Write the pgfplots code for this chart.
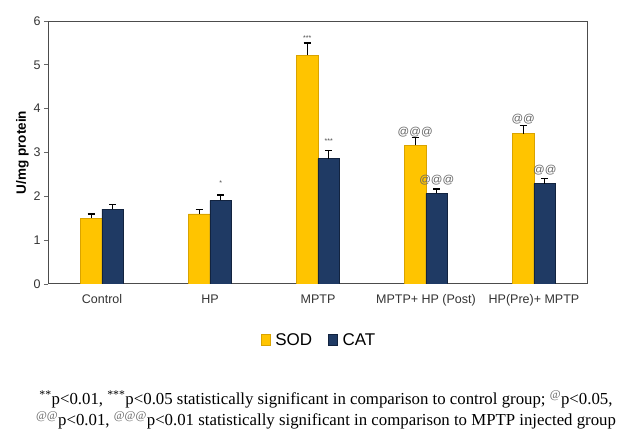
\documentclass[border=0pt]{standalone}
\usepackage{pgfplots}
\pgfplotsset{compat=1.18}
\usepackage{pgfplotstable}
\usepackage{fontspec}
\setmainfont{Liberation Sans}
\newfontfamily\seriffont{Liberation Serif}
\definecolor{sodc}{HTML}{FFC400}
\definecolor{sodd}{HTML}{D9A300}
\definecolor{catc}{HTML}{1F3A64}
\definecolor{catd}{HTML}{12233F}
\pgfplotstableread{
x sod sode cat cate
0 1.50 0.10 1.71 0.10
1 1.60 0.10 1.91 0.12
2 5.22 0.28 2.86 0.18
3 3.16 0.19 2.07 0.10
4 3.43 0.18 2.29 0.11
}\datatab
\begin{document}
\begin{tikzpicture}
\path[use as bounding box] (0pt,0pt) rectangle (619pt,-430pt);
\begin{axis}[
  at={(48pt,-284pt)}, anchor=south west,
  scale only axis, width=540pt, height=263pt,
  xmin=-0.5, xmax=4.5, ymin=0, ymax=6,
  ybar=0pt, bar width=0.2,
  xtick={0,1,2,3,4},
  xticklabels={Control,HP,MPTP,{MPTP+ HP (Post)},{HP(Pre)+ MPTP}},
  ytick={0,1,2,3,4,5,6},
  ytick pos=left,
  x tick style={draw=none},
  y tick style={draw=black!60, line width=0.8pt},
  tick align=outside, major tick length=4pt,
  axis line style={draw=black!70, line width=1pt},
  /pgf/number format/assume math mode=true,
  tick label style={font=\fontsize{12.5}{14}\selectfont, text=black!80},
  xticklabel style={yshift=-3pt},
  ylabel={\bfseries U/mg protein},
  ylabel style={font=\fontsize{13.5}{15}\selectfont, yshift=-2pt},
  legend style={at={(0.502,-0.213)}, anchor=center, draw=none, legend columns=2,
    font=\fontsize{17}{20}\selectfont, column sep=3pt,
    /tikz/every even column/.append style={column sep=14pt}},
  legend image code/.code={\draw[#1] (0pt,-5.5pt) rectangle (9pt,5.5pt);},
  error bars/y dir=plus, error bars/y explicit,
  error bars/error bar style={black, line width=1.3pt},
  error bars/error mark options={rotate=90, mark size=3.5pt, line width=1.3pt, black},
]
\addplot[fill=sodc, draw=sodd, bar shift=-0.1] table[x=x, y=sod, y error=sode]{\datatab};
\addlegendentry{SOD}
\addplot[fill=catc, draw=catd, bar shift=0.1] table[x=x, y=cat, y error=cate]{\datatab};
\addlegendentry{CAT}
\node[font=\scriptsize, text=black!70] at (axis cs:1.1,2.30) {*};
\node[font=\scriptsize, text=black!70] at (axis cs:1.9,5.62) {***};
\node[font=\scriptsize, text=black!70] at (axis cs:2.1,3.26) {***};
\node[font=\fontsize{11.5}{12}\selectfont, text=black!60] at (axis cs:2.9,3.47) {@@@};
\node[font=\fontsize{11.5}{12}\selectfont, text=black!60] at (axis cs:3.1,2.37) {@@@};
\node[font=\fontsize{11.5}{12}\selectfont, text=black!60] at (axis cs:3.9,3.77) {@@};
\node[font=\fontsize{11.5}{12}\selectfont, text=black!60] at (axis cs:4.1,2.59) {@@};
\end{axis}
\node[font=\seriffont\fontsize{16.8}{21}\selectfont, align=center, anchor=center] at (326pt,-410pt)
 {\textsuperscript{**}p<0.01, \textsuperscript{***}p<0.05 statistically significant in comparison to control group; \textsuperscript{\textcolor{black!60}{@}}p<0.05,\\
  \textsuperscript{\textcolor{black!60}{@@}}p<0.01, \textsuperscript{\textcolor{black!60}{@@@}}p<0.01 statistically significant in comparison to MPTP injected group};
\end{tikzpicture}
\end{document}
